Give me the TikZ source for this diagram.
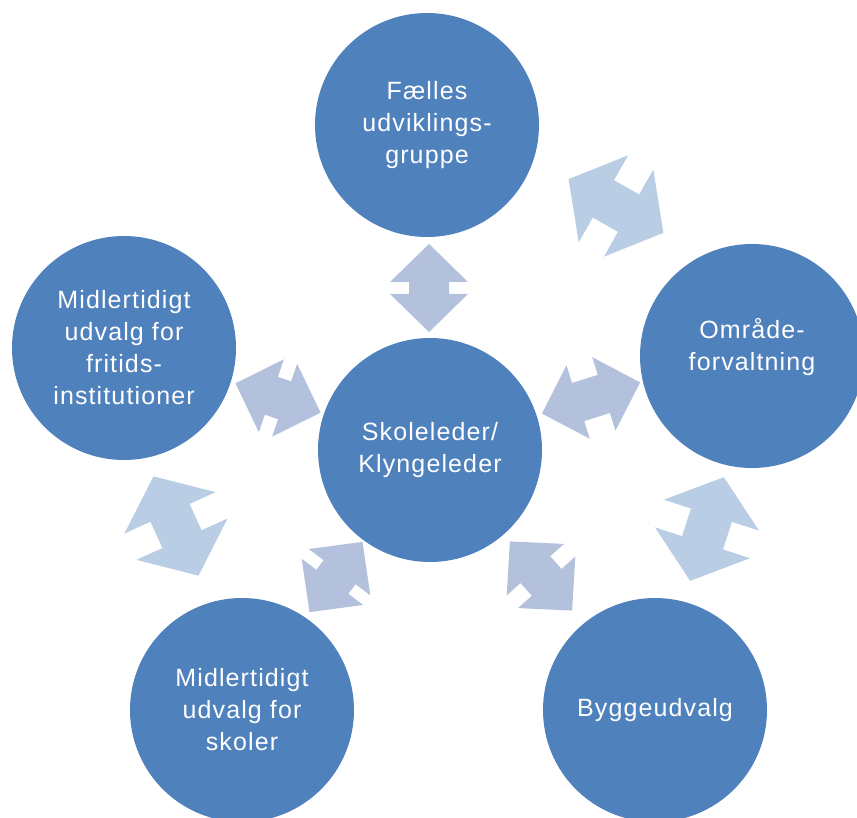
\documentclass[tikz,border=0pt]{standalone}
\usepackage{fontspec}
\setmainfont{Liberation Sans}
\newfontfamily\circfont[LetterSpace=4.5]{Liberation Sans}
\definecolor{circblue}{RGB}{79,129,189}
\definecolor{arrinner}{RGB}{179,193,221}
\definecolor{arrring}{RGB}{185,205,229}
\newcommand{\dblarr}[8]{% x, y, angle, head length, head width, shaft length, shaft width, colour
  \begin{scope}[shift={(#1,#2)},rotate=#3]
    \fill[#8] ({-#6/2-#4},0) -- ({-#6/2},{#5/2}) -- ({-#6/2},{#7/2}) -- ({#6/2},{#7/2})
      -- ({#6/2},{#5/2}) -- ({#6/2+#4},0) -- ({#6/2},{-#5/2}) -- ({#6/2},{-#7/2})
      -- ({-#6/2},{-#7/2}) -- ({-#6/2},{-#5/2}) -- cycle;
  \end{scope}}
\begin{document}
\begin{tikzpicture}[x=1pt,y=-1pt,
  circ/.style={circle,fill=circblue,minimum size=224pt,inner sep=0pt,align=center,
    text=white,font=\circfont\fontsize{25}{32}\selectfont}]
\useasboundingbox (0,0) rectangle (857,818);
\clip (0,0) rectangle (857,818);
\fill[white] (0,0) rectangle (857,818);
% circles
\node[circ] (top) at (427,125) {Fælles\\udviklings-\\gruppe};
\node[circ] (mid) at (430,450) {Skoleleder/\\Klyngeleder};
\node[circ] (left) at (124,348) {Midlertidigt\\udvalg for\\fritids-\\institutioner};
\node[circ] (right) at (752,356) {Område-\\forvaltning\\[-8pt]\mbox{}};
\node[circ] (bl) at (242,710) {Midlertidigt\\udvalg for\\skoler};
\node[circ] (br) at (655,710) {Byggeudvalg};
% inner arrows
\dblarr{429}{288}{90}{38}{78}{12}{40}{arrinner}
\dblarr{278}{398}{-19}{38}{77}{14}{40}{arrinner}
\dblarr{591}{398}{17.6}{38}{77}{27}{40}{arrinner}
\dblarr{336}{577}{53}{38}{77}{12}{40}{arrinner}
\dblarr{541}{576}{-48}{38}{77}{17}{40}{arrinner}
% ring arrows
\dblarr{616}{206}{-29.6}{40}{100}{29}{43}{arrring}
\dblarr{176}{526}{-65.6}{40}{100}{29}{43}{arrring}
\dblarr{707}{529}{72}{40}{100}{29}{43}{arrring}
\end{tikzpicture}
\end{document}
